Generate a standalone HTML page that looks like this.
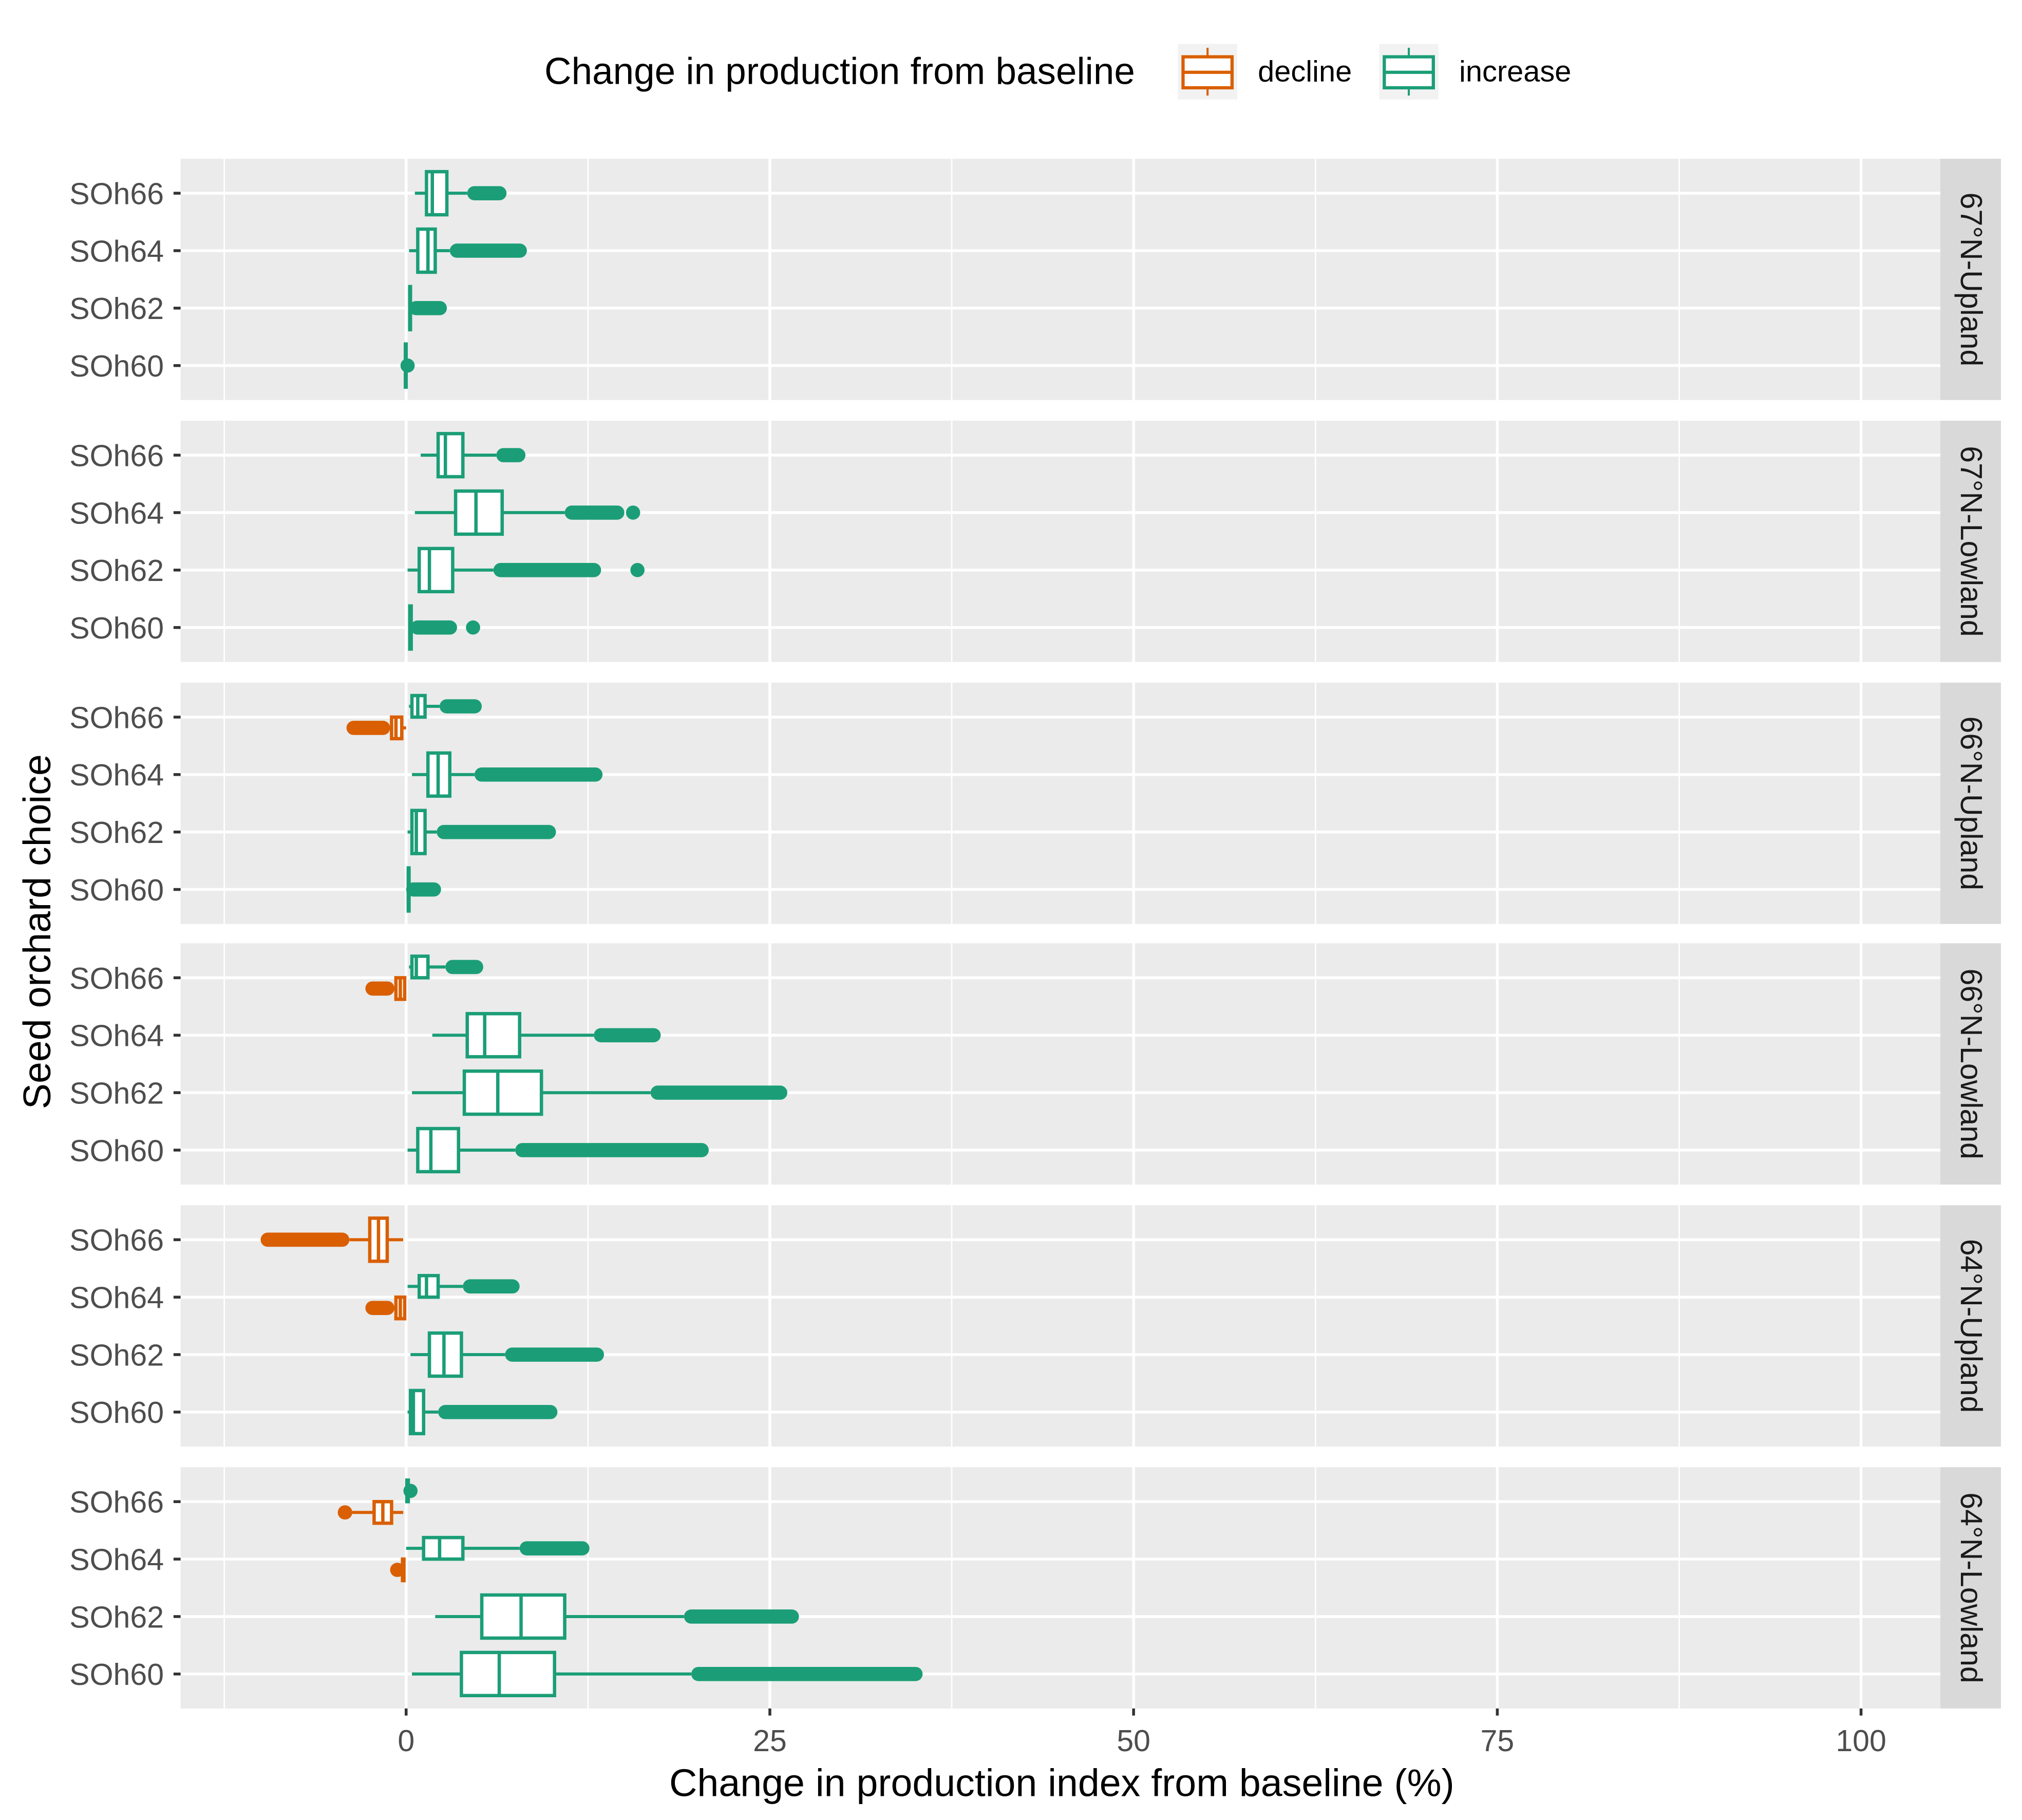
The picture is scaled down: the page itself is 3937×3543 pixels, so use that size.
<!DOCTYPE html>
<html><head><meta charset="utf-8"><style>
html,body{margin:0;padding:0;background:#fff;}
svg{display:block;font-family:"Liberation Sans",sans-serif;}
</style></head><body>
<svg id="chart" xmlns="http://www.w3.org/2000/svg" width="3937" height="3543" viewBox="0 0 1567.3 1410.4">
<g id="legend">
<text x="422" y="65" font-size="29" fill="#000">Change in production from baseline</text>
<g>
<rect x="913" y="34" width="46" height="43" fill="#f2f2f2"/>
<line x1="936" y1="37" x2="936" y2="74" stroke="#d95f02" stroke-width="1.6"/>
<rect x="917" y="44" width="38" height="24" fill="#fff" stroke="#d95f02" stroke-width="2.5"/>
<line x1="917" y1="56" x2="955" y2="56" stroke="#d95f02" stroke-width="2.5"/>
<text x="975" y="63" font-size="23" fill="#000">decline</text>
</g>
<g>
<rect x="1069" y="34" width="46" height="43" fill="#f2f2f2"/>
<line x1="1092" y1="37" x2="1092" y2="74" stroke="#1b9e77" stroke-width="1.6"/>
<rect x="1073" y="44" width="38" height="24" fill="#fff" stroke="#1b9e77" stroke-width="2.5"/>
<line x1="1073" y1="56" x2="1111" y2="56" stroke="#1b9e77" stroke-width="2.5"/>
<text x="1131" y="63" font-size="23" fill="#000">increase</text>
</g>
</g>
<g id="plot"></g>
<text x="823" y="1392" font-size="30" text-anchor="middle" fill="#000">Change in production index from baseline (%)</text>
<text transform="translate(39,722) rotate(-90)" font-size="30" text-anchor="middle" fill="#000">Seed orchard choice</text>
</svg>
<script>
const panels = ["67°N-Upland","67°N-Lowland","66°N-Upland","66°N-Lowland","64°N-Upland","64°N-Lowland"];
const categories = ["SOh66","SOh64","SOh62","SOh60"];
const xTicks = [0,25,50,75,100];
const xMinor = [-12.5,12.5,37.5,62.5,87.5];
// [panelIndex, category, group, min, q1, median, q3, max, outlierLo, outlierHi, extraOutlier]
const boxStats = [
 [0,"SOh66","increase",0.6,1.4,1.8,2.8,4.2,4.2,6.9,null],
 [0,"SOh64","increase",0.2,0.8,1.5,2.0,3.0,3.0,8.3,null],
 [0,"SOh62","increase",0.2,0.25,0.25,0.3,0.3,0.2,2.8,null],
 [0,"SOh60","increase",-0.1,-0.05,-0.05,0.0,0.0,-0.3,0.5,null],
 [1,"SOh66","increase",1.0,2.2,2.7,3.9,6.2,6.2,8.2,null],
 [1,"SOh64","increase",0.6,3.4,4.8,6.6,10.9,10.9,15.0,15.6],
 [1,"SOh62","increase",0.1,0.9,1.6,3.2,6.0,6.0,13.4,15.9],
 [1,"SOh60","increase",0.2,0.25,0.3,0.35,0.4,0.3,3.5,4.6],
 [2,"SOh66","increase",0.2,0.4,0.8,1.3,2.3,2.3,5.2,null],
 [2,"SOh66","decline",-1.1,-1.0,-0.7,-0.3,0.0,-4.1,-1.1,null],
 [2,"SOh64","increase",0.4,1.5,2.2,3.0,4.7,4.7,13.5,null],
 [2,"SOh62","increase",0.1,0.4,0.7,1.3,2.1,2.1,10.3,null],
 [2,"SOh60","increase",0.1,0.15,0.15,0.2,0.2,0.0,2.4,null],
 [3,"SOh66","increase",0.2,0.4,0.7,1.5,2.7,2.7,5.3,null],
 [3,"SOh66","decline",-0.8,-0.7,-0.4,-0.1,0.0,-2.8,-0.8,null],
 [3,"SOh64","increase",1.8,4.2,5.4,7.8,12.9,12.9,17.5,null],
 [3,"SOh62","increase",0.4,4.0,6.3,9.3,16.8,16.8,26.2,null],
 [3,"SOh60","increase",0.1,0.8,1.7,3.6,7.5,7.5,20.8,null],
 [4,"SOh66","decline",-3.9,-2.5,-1.9,-1.3,-0.2,-10.0,-3.9,null],
 [4,"SOh64","increase",0.1,0.9,1.4,2.2,3.9,3.9,7.8,null],
 [4,"SOh64","decline",-0.7,-0.7,-0.4,-0.1,0.0,-2.8,-0.8,null],
 [4,"SOh62","increase",0.3,1.6,2.6,3.8,6.8,6.8,13.6,null],
 [4,"SOh60","increase",0.1,0.3,0.5,1.2,2.2,2.2,10.4,null],
 [5,"SOh66","increase",0.0,0.05,0.1,0.15,0.2,0.0,0.6,null],
 [5,"SOh66","decline",-3.7,-2.2,-1.6,-1.0,-0.2,-4.7,-3.7,null],
 [5,"SOh64","increase",0.0,1.2,2.3,3.9,7.8,7.8,12.6,null],
 [5,"SOh64","decline",-0.3,-0.25,-0.2,-0.15,-0.1,-1.1,-0.1,null],
 [5,"SOh62","increase",2.0,5.2,7.9,10.9,19.1,19.1,27.0,null],
 [5,"SOh60","increase",0.4,3.8,6.4,10.2,19.6,19.6,35.5,null]
];
const colors = {increase:"#1b9e77", decline:"#d95f02"};
const NS="http://www.w3.org/2000/svg";
const plotL=140, plotR=1504, stripR=1551, panelTops=[123,326,529,731,934,1137], panelH=187;
const xDomain=[-15.5,105.45];
function xs(v){return plotL+(v-xDomain[0])/(xDomain[1]-xDomain[0])*(plotR-plotL);}
const unitH=panelH/4.2;
function ys(p,catIdx){return panelTops[p]+panelH-unitH*(0.6+(3-catIdx));}
const root=document.getElementById('plot');
function mk(tag,attrs,parent){const e=document.createElementNS(NS,tag);for(const k in attrs)e.setAttribute(k,attrs[k]);(parent||root).appendChild(e);return e;}
panels.forEach((name,p)=>{
  const top=panelTops[p];
  const g=mk('g',{});
  
  
  const bg=mk('rect',{x:plotL,y:top,width:plotR-plotL,height:panelH,fill:'#ebebeb'},g);
  
  
  xMinor.forEach(v=>{mk('line',{x1:xs(v),x2:xs(v),y1:top,y2:top+panelH,stroke:'#fff','stroke-width':1.1},g);});
  xTicks.forEach(v=>{mk('line',{x1:xs(v),x2:xs(v),y1:top,y2:top+panelH,stroke:'#fff','stroke-width':2.2},g);});
  categories.forEach((c,i)=>{
    const y=ys(p,i);
    mk('line',{x1:plotL,x2:plotR,y1:y,y2:y,stroke:'#fff','stroke-width':2.2},g);
    mk('line',{x1:plotL-5.5,x2:plotL,y1:y,y2:y,stroke:'#333','stroke-width':2.2},g);
    const t=mk('text',{x:127,y:y+8.5,'font-size':23.5,'text-anchor':'end',fill:'#4d4d4d'},g);
    t.textContent=c;
    
    
  });
  const s=mk('rect',{x:plotR,y:top,width:stripR-plotR,height:panelH,fill:'#d9d9d9'},g);
  
  
  const st=mk('text',{transform:'translate('+(plotR+16)+','+(top+panelH/2)+') rotate(90)','font-size':23.5,'text-anchor':'middle',fill:'#1a1a1a'},g);
  st.textContent=name;
  
  
});
const R=5.5;
boxStats.forEach(b=>{
  const [p,cat,grp,mn,q1,md,q3,mx,oLo,oHi,extra]=b;
  const ci=categories.indexOf(cat);
  const both=boxStats.filter(o=>o[0]===p&&o[1]===cat).length>1;
  let yc=ys(p,ci), h=unitH*0.75;
  if(both){h=unitH*0.375; yc+= (grp==='increase'?-1:1)*unitH*0.1875;}
  const col=colors[grp];
  const g=mk('g',{});
  
  
  let a=xs(oLo)+R, z=xs(oHi)-R;
  if(z<a){const m=(a+z)/2;a=m;z=m;}
  mk('line',{x1:a,x2:z,y1:yc,y2:yc,stroke:col,'stroke-width':2*R,'stroke-linecap':'round'},g);
  if(extra!==null) mk('circle',{cx:xs(extra),cy:yc,r:R,fill:col},g);
  mk('line',{x1:xs(mn),x2:xs(q1),y1:yc,y2:yc,stroke:col,'stroke-width':2.4},g);
  mk('line',{x1:xs(q3),x2:xs(mx),y1:yc,y2:yc,stroke:col,'stroke-width':2.4},g);
  mk('rect',{x:xs(q1),y:yc-h/2,width:Math.max(xs(q3)-xs(q1),0.5),height:h,fill:'#fff',stroke:col,'stroke-width':2.6},g);
  mk('line',{x1:xs(md),x2:xs(md),y1:yc-h/2,y2:yc+h/2,stroke:col,'stroke-width':2.6},g);
});
const lastBottom=panelTops[5]+panelH;
xTicks.forEach(v=>{
  mk('line',{x1:xs(v),x2:xs(v),y1:lastBottom,y2:lastBottom+5.5,stroke:'#333','stroke-width':2.2});
  const t=mk('text',{x:xs(v),y:lastBottom+33,'font-size':23.5,'text-anchor':'middle',fill:'#4d4d4d'});
  t.textContent=String(v);
  
  
});
</script>
</body></html>
